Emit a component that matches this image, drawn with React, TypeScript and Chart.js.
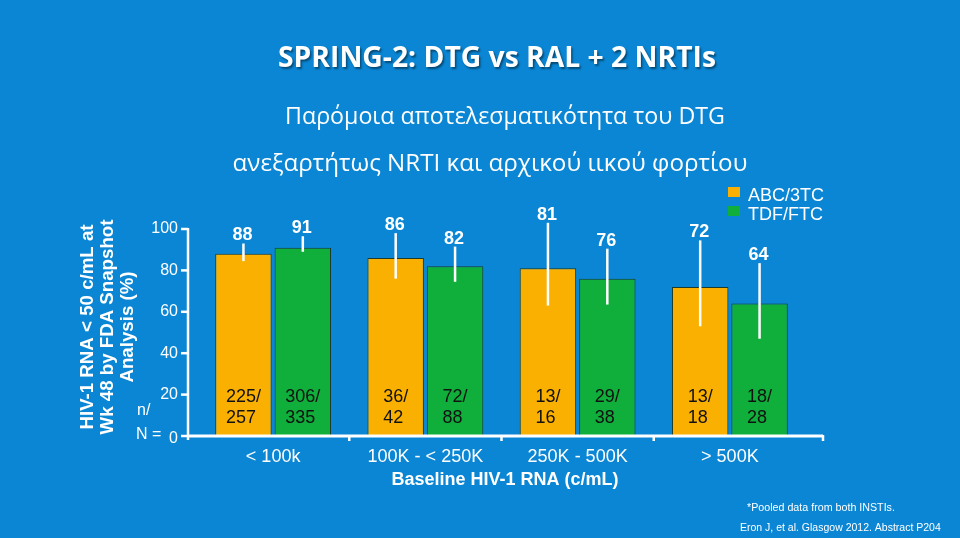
import React, { useEffect, useRef } from "react";
import { Chart, registerables } from "chart.js";

Chart.register(...registerables);

const categories = ["< 100k", "100K - < 250K", "250K - 500K", "> 500K"];
const seriesNames = ["ABC/3TC", "TDF/FTC"];
const abcValues = [88, 86, 81, 72];
const tdfValues = [91, 82, 76, 64];
const abcCiLow = [84.5, 76, 63, 53];
const abcCiHigh = [93, 98, 103, 94.5];
const tdfCiLow = [89, 74.5, 63.5, 47];
const tdfCiHigh = [96.5, 91.5, 90.5, 83.5];
const abcCounts = [["225/", "257"], ["36/", "42"], ["13/", "16"], ["13/", "18"]];
const tdfCounts = [["306/", "335"], ["72/", "88"], ["29/", "38"], ["18/", "28"]];
const yTicks = [0, 20, 40, 60, 80, 100];

const title = "SPRING-2: DTG vs RAL + 2 NRTIs";
const subtitle1 = "Παρόμοια αποτελεσματικότητα του DTG";
const subtitle2 = "ανεξαρτήτως NRTI και αρχικού ιικού φορτίου";
const yTitle = ["HIV-1 RNA < 50 c/mL at", "Wk 48 by FDA Snapshot", "Analysis (%)"];
const xTitle = "Baseline HIV-1 RNA (c/mL)";
const footnote1 = "*Pooled data from both INSTIs.";
const footnote2 = "Eron J, et al. Glasgow 2012. Abstract P204";

const BG = "rgb(10,134,212)";
const ORANGE = "rgb(250,176,0)";
const GREEN = "rgb(16,174,58)";
const ARIAL = "Arial, 'Liberation Sans', sans-serif";
const OPEN = "'Open Sans', sans-serif";

const ciLow = [abcCiLow, tdfCiLow];
const ciHigh = [abcCiHigh, tdfCiHigh];
const counts = [abcCounts, tdfCounts];

function fitFont(ctx: CanvasRenderingContext2D, text: string, width: number, weight: string, family: string) {
  ctx.font = `${weight} 20px ${family}`;
  const w = ctx.measureText(text).width;
  const size = (20 * width) / w;
  ctx.font = `${weight} ${size.toFixed(2)}px ${family}`;
}

const bgPlugin = {
  id: "bgPlugin",
  beforeDraw(chart: any) {
    const ctx = chart.ctx;
    ctx.save();
    ctx.fillStyle = BG;
    ctx.fillRect(0, 0, chart.width, chart.height);
    ctx.restore();
  },
};

const decorPlugin = {
  id: "decorPlugin",
  afterDraw(chart: any) {
    const ctx = chart.ctx;
    const y = chart.scales.y;
    const x = chart.scales.x;
    const area = chart.chartArea;
    ctx.save();
    ctx.fillStyle = "#ffffff";
    ctx.strokeStyle = "#ffffff";

    // Title
    ctx.save();
    ctx.shadowColor = "rgba(0,0,0,0.45)";
    ctx.shadowOffsetX = 1.5;
    ctx.shadowOffsetY = 1.5;
    ctx.shadowBlur = 2;
    fitFont(ctx, title, 438, "bold", OPEN);
    ctx.textAlign = "center";
    ctx.textBaseline = "middle";
    ctx.fillText(title, 497, 59);
    ctx.restore();

    ctx.textAlign = "center";
    ctx.textBaseline = "middle";
    fitFont(ctx, subtitle1, 440, "normal", OPEN);
    ctx.fillText(subtitle1, 505, 117);
    fitFont(ctx, subtitle2, 515, "normal", OPEN);
    ctx.fillText(subtitle2, 490, 164);

    // Y axis line and ticks
    const axisX = 188;
    const y0 = y.getPixelForValue(0);
    const y100 = y.getPixelForValue(100);
    ctx.lineWidth = 2.5;
    ctx.beginPath();
    ctx.moveTo(axisX, y100 - 1);
    ctx.lineTo(axisX, y0 + 4);
    ctx.stroke();
    ctx.font = `16px ${ARIAL}`;
    ctx.textAlign = "right";
    ctx.textBaseline = "middle";
    yTicks.forEach((t) => {
      const py = y.getPixelForValue(t);
      ctx.beginPath();
      ctx.moveTo(axisX - 7, py);
      ctx.lineTo(axisX, py);
      ctx.stroke();
      ctx.fillText(String(t), axisX - 10, t === 0 ? py + 3 : py);
    });
    ctx.textAlign = "left";
    ctx.fillText("n/", 137, 411);
    ctx.fillText("N =", 136, 435);

    // X axis line and category boundary ticks
    const xRight = 823;
    ctx.lineWidth = 3;
    ctx.beginPath();
    ctx.moveTo(axisX, y0);
    ctx.lineTo(xRight, y0);
    ctx.stroke();
    ctx.lineWidth = 2.5;
    const n = categories.length;
    for (let i = 1; i < n; i++) {
      const bx = (x.getPixelForValue(i - 1) + x.getPixelForValue(i)) / 2;
      ctx.beginPath();
      ctx.moveTo(bx, y0);
      ctx.lineTo(bx, y0 + 5);
      ctx.stroke();
    }
    ctx.beginPath();
    ctx.moveTo(xRight, y0 - 1);
    ctx.lineTo(xRight, y0 + 5);
    ctx.stroke();

    // Category labels
    ctx.font = `18px ${ARIAL}`;
    ctx.textAlign = "center";
    ctx.textBaseline = "middle";
    categories.forEach((c, i) => {
      ctx.fillText(c, x.getPixelForValue(i), 457);
    });
    ctx.font = `bold 18px ${ARIAL}`;
    ctx.fillText(xTitle, 505, 480);

    // Y title
    ctx.save();
    ctx.translate(0, 327);
    ctx.rotate(-Math.PI / 2);
    ctx.font = `bold 18.7px ${ARIAL}`;
    ctx.textAlign = "center";
    ctx.textBaseline = "middle";
    const lineX = [88, 108, 128];
    yTitle.forEach((l, i) => {
      ctx.fillText(l, 0, lineX[i]);
    });
    ctx.restore();

    // Error bars, value labels, counts
    chart.data.datasets.forEach((ds: any, di: number) => {
      const meta = chart.getDatasetMeta(di);
      meta.data.forEach((el: any, i: number) => {
        const bx = el.x;
        const lo = y.getPixelForValue(ciLow[di][i]);
        const hi = y.getPixelForValue(ciHigh[di][i]);
        ctx.strokeStyle = "#ffffff";
        ctx.lineWidth = 2.5;
        ctx.beginPath();
        ctx.moveTo(bx, hi);
        ctx.lineTo(bx, lo);
        ctx.stroke();

        ctx.fillStyle = "#ffffff";
        ctx.font = `bold 18px ${ARIAL}`;
        ctx.textAlign = "center";
        ctx.textBaseline = "bottom";
        ctx.fillText(String(ds.data[i]), bx - 1, hi + 1);

        const c = counts[di][i];
        ctx.fillStyle = "#111111";
        ctx.font = `18px ${ARIAL}`;
        ctx.textAlign = "left";
        ctx.textBaseline = "middle";
        const w = ctx.measureText(c[0]).width;
        const sx = bx - w / 2;
        ctx.fillText(c[0], sx, y0 - 39);
        ctx.fillText(c[1], sx, y0 - 18);
      });
    });

    // Legend
    const legendColors = [ORANGE, GREEN];
    ctx.font = `18px ${ARIAL}`;
    ctx.textAlign = "left";
    ctx.textBaseline = "middle";
    seriesNames.forEach((s, i) => {
      const ly = 196 + i * 19;
      ctx.fillStyle = legendColors[i];
      ctx.fillRect(728, ly - 9, 12, 10);
      ctx.fillStyle = "#ffffff";
      ctx.fillText(s, 748, ly);
    });

    // Footnotes
    ctx.textAlign = "left";
    fitFont(ctx, footnote1, 148, "normal", ARIAL);
    ctx.fillText(footnote1, 747, 508);
    fitFont(ctx, footnote2, 201, "normal", ARIAL);
    ctx.fillText(footnote2, 740, 528);

    ctx.restore();
  },
};

export default function App() {
  const ref = useRef<HTMLCanvasElement | null>(null);
  useEffect(() => {
    document.body.style.margin = "0";
    const canvas = ref.current;
    if (!canvas) return;
    const chart = new Chart(canvas, {
      type: "bar",
      data: {
        labels: categories,
        datasets: [
          {
            label: seriesNames[0],
            data: abcValues,
            backgroundColor: ORANGE,
            borderColor: "#1d3b2c",
            borderWidth: 1,
            categoryPercentage: 0.78,
            barPercentage: 0.95,
          },
          {
            label: seriesNames[1],
            data: tdfValues,
            backgroundColor: GREEN,
            borderColor: "#1d3b2c",
            borderWidth: 1,
            categoryPercentage: 0.78,
            barPercentage: 0.95,
          },
        ],
      },
      options: {
        responsive: false,
        animation: false,
        devicePixelRatio: 1,
        layout: { padding: { left: 197, right: 154, top: 229, bottom: 102 } },
        plugins: {
          legend: { display: false },
          tooltip: { enabled: false },
          title: { display: false },
        },
        scales: {
          x: { display: false, offset: true, grid: { display: false } },
          y: { display: false, min: 0, max: 100, grid: { display: false } },
        },
      },
      plugins: [bgPlugin, decorPlugin],
    });
    return () => chart.destroy();
  }, []);
  return (
    <div style={{ width: 960, height: 538, position: "relative" }}>
      <canvas ref={ref} width={960} height={538} style={{ display: "block", width: 960, height: 538 }} />
    </div>
  );
}
